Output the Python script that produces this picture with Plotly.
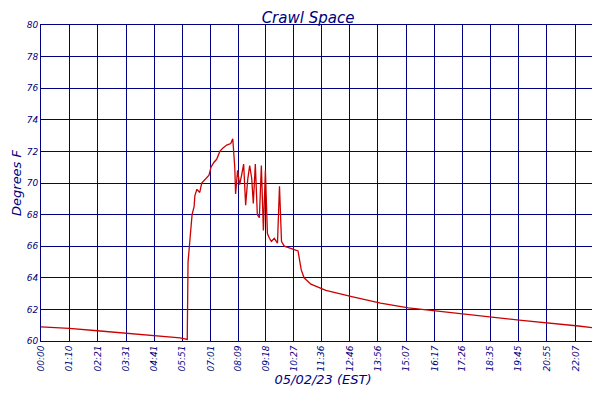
import plotly.graph_objects as go

# minutes after midnight, temperature in F
minutes = [0, 70, 140, 210, 280, 345, 363, 365, 370, 375, 380, 382, 387, 394, 399, 409, 417, 422,
           429, 436, 444, 451, 461, 471, 476, 481, 483, 488, 493, 498, 503, 508, 513, 518, 523,
           527, 532, 537, 542, 547, 552, 557, 562, 567, 572, 579, 587, 592, 597, 604, 616, 629,
           638, 646, 653, 670, 707, 774, 843, 912, 1053, 1193, 1334, 1399]
temps = [60.9, 60.8, 60.65, 60.5, 60.35, 60.2, 60.1, 65.0, 66.5, 68.0, 68.5, 69.2, 69.6, 69.4,
         70.0, 70.3, 70.5, 71.0, 71.3, 71.5, 72.0, 72.2, 72.4, 72.5, 72.8, 71.0, 69.3, 70.8, 69.9,
         70.5, 71.2, 68.6, 70.2, 71.1, 70.3, 68.7, 71.2, 68.0, 67.8, 71.1, 67.0, 70.8, 66.8, 66.5,
         66.3, 66.5, 66.2, 69.8, 66.3, 66.0, 65.9, 65.8, 65.7, 64.5, 64.0, 63.6, 63.2, 62.8, 62.4,
         62.1, 61.7, 61.3, 60.95, 60.75]

tick_labels = ["00:00", "01:10", "02:21", "03:31", "04:41", "05:51", "07:01", "08:09", "09:18",
               "10:27", "11:36", "12:46", "13:56", "15:07", "16:17", "17:26", "18:35", "19:45",
               "20:55", "22:07", "23:17", "23:59"]
tick_minutes = [0, 70, 141, 211, 281, 351, 421, 489, 558, 627, 696, 766, 836, 907, 977, 1046,
                1115, 1185, 1255, 1327, 1397, 1400]

navy = "#000080"
font = "DejaVu Sans"

fig = go.Figure()
fig.add_trace(go.Scatter(x=minutes, y=temps, mode="lines",
                         line=dict(color="#cc0000", width=1.3), name="Crawl Space"))

fig.update_layout(
    width=600, height=400,
    margin=dict(l=33, r=3, t=17, b=67, autoexpand=False),
    paper_bgcolor="white", plot_bgcolor="white",
    title=dict(text="<i>Crawl Space</i>", x=0.5, y=0.99, xanchor="center", yanchor="top",
               font=dict(family=font, size=15, color=navy)),
    showlegend=True,
    legend=dict(orientation="h", x=0.5, xanchor="center", y=-0.27, yanchor="top",
                font=dict(family=font, size=11, color=navy)),
    font=dict(family=font, color=navy),
)
fig.update_xaxes(range=[0, 1400], tickvals=tick_minutes, ticktext=["<i>%s</i>" % t for t in tick_labels],
                 tickangle=-90, tickfont=dict(size=9, color=navy), showgrid=True, gridcolor=navy,
                 gridwidth=1, showline=True, linecolor=navy, mirror=True, zeroline=False,
                 automargin=False,
                 title=dict(text="<i>05/02/23 (EST)</i>", font=dict(size=13, color=navy), standoff=4))
fig.update_yaxes(range=[60, 80], dtick=2, tickfont=dict(size=9, color=navy), showgrid=True,
                 gridcolor=navy, gridwidth=1, showline=True, linecolor=navy, mirror=True,
                 zeroline=False, tickprefix="<i>", ticksuffix="</i>", automargin=False,
                 title=dict(text="<i>Degrees F</i>", font=dict(size=13, color=navy), standoff=2))

fig.write_html("out.html")
